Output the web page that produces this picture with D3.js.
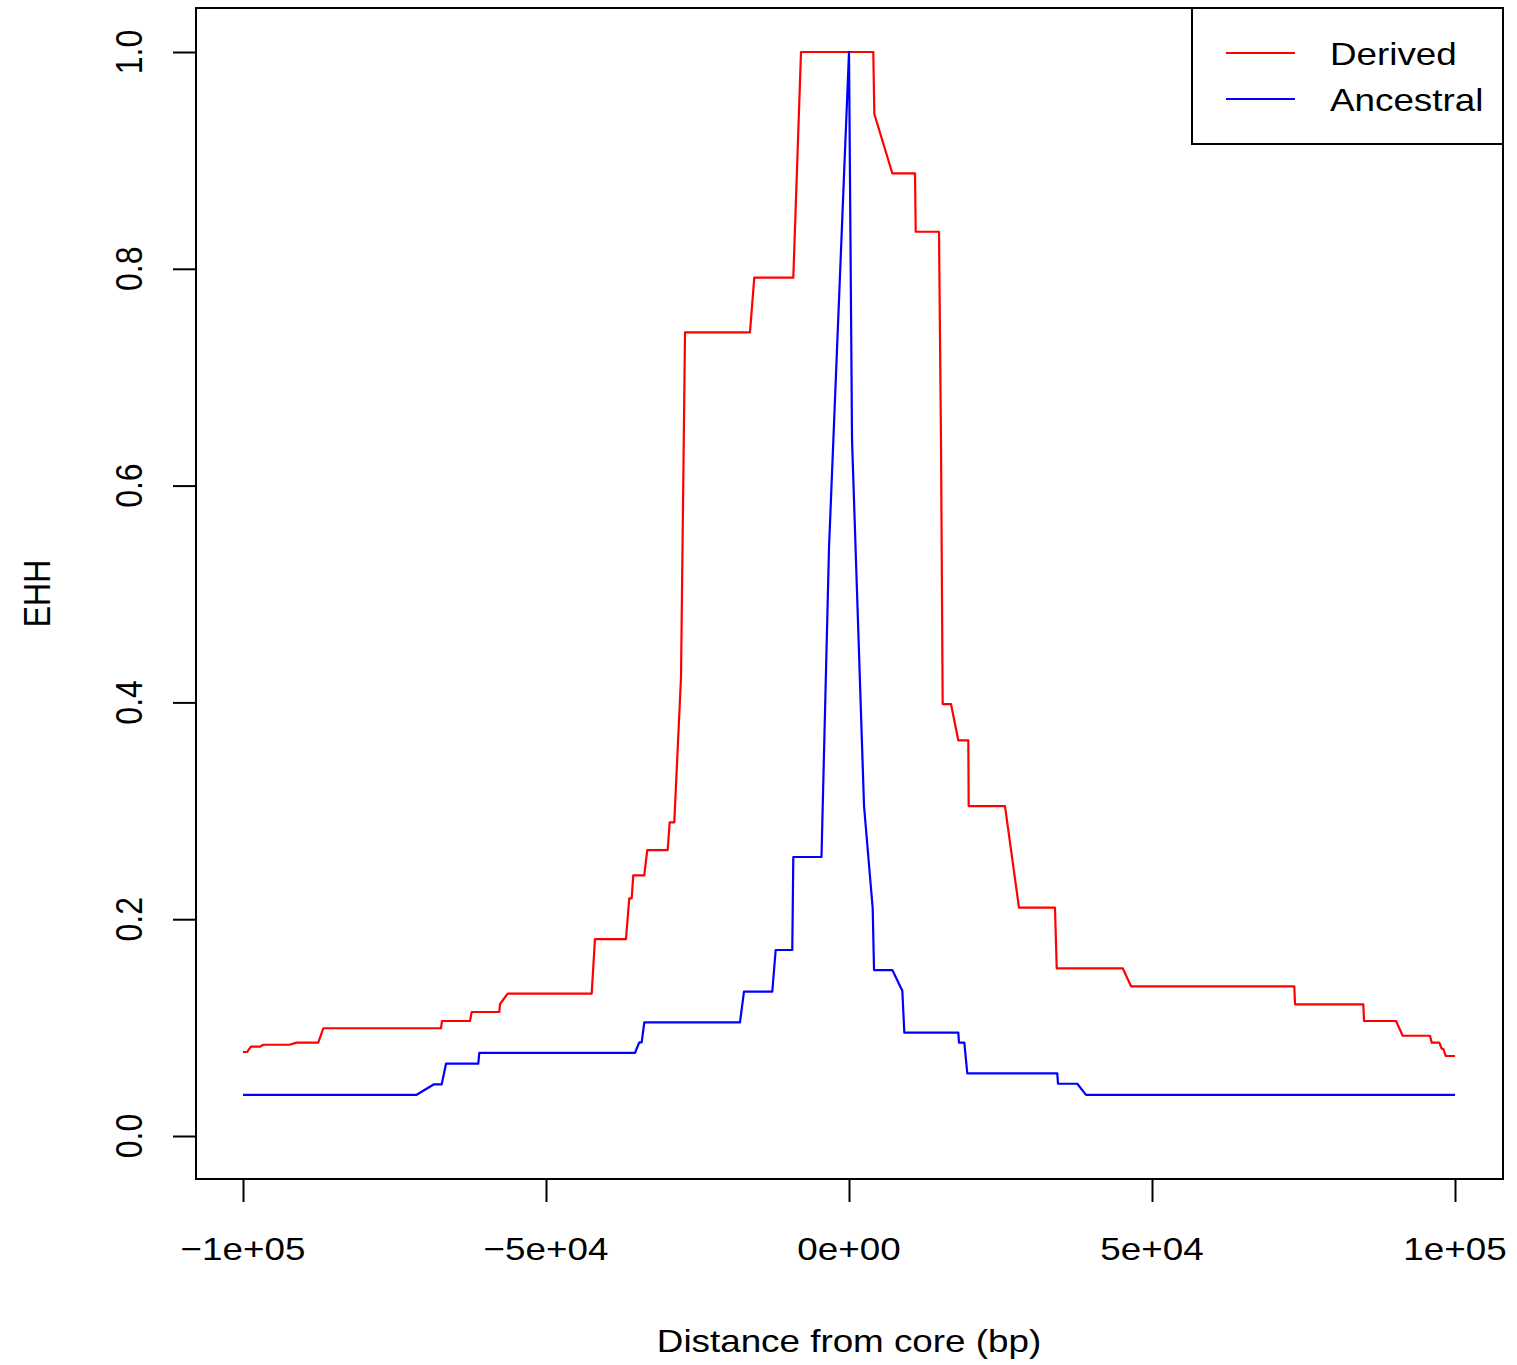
<!DOCTYPE html>
<html>
<head>
<meta charset="utf-8">
<script src="https://cdn.jsdelivr.net/npm/d3@7"></script>
<style>
  html, body { margin: 0; padding: 0; background: #fff; }
  svg { display: block; }
  text { font-family: "Liberation Sans", Arial, Helvetica, sans-serif; fill: #000; }
</style>
</head>
<body>
<svg id="chart" width="1517" height="1365"></svg>
<script>
// EHH decay around the core SNP, derived vs ancestral haplotypes
const derivedPos = [-100000, -99300, -98700, -97200, -96650, -92350, -91140, -87580, -86750, -67330,
  -67160, -62540, -62260, -57700, -57590, -56320, -42460, -41920, -36800, -36260,
  -35860, -35600, -33780, -33290, -29920, -29590, -28830, -27720, -27060, -16340,
  -15630, -9190, -7920, 4010, 4180, 7150, 10890, 11010, 14850, 15180,
  15460, 16830, 18040, 19690, 19750, 25740, 28050, 33990, 34280, 45170,
  46540, 73480, 73600, 84870, 84990, 90270, 91370, 95880, 96160, 97410,
  97810, 98070, 98470, 100000];
const derivedEHH = [0.0775, 0.0775, 0.0824, 0.0824, 0.0842, 0.0842, 0.0861, 0.0861, 0.0994, 0.0994,
  0.1061, 0.1061, 0.1144, 0.1144, 0.1218, 0.1313, 0.1313, 0.1817, 0.1817, 0.2193,
  0.2193, 0.2405, 0.2405, 0.2638, 0.2638, 0.2894, 0.2894, 0.4234, 0.7414, 0.7414,
  0.7918, 0.7918, 1.0, 1.0, 0.9428, 0.8881, 0.8881, 0.8342, 0.8342, 0.6421,
  0.3985, 0.3985, 0.3650, 0.3650, 0.3044, 0.3044, 0.2106, 0.2106, 0.1547, 0.1547,
  0.1381, 0.1381, 0.1215, 0.1215, 0.1061, 0.1061, 0.0925, 0.0925, 0.0861, 0.0861,
  0.0805, 0.0805, 0.0738, 0.0738];

const ancestralPos = [-100000, -71340, -68480, -67210, -66500, -61170, -61010, -35320, -34610, -34210,
  -33780, -17990, -17330, -12660, -12100, -9360, -9190, -4540, -3300, 0,
  500, 2480, 3910, 4130, 7150, 8800, 9130, 18040, 18150, 19030,
  19520, 34370, 34490, 37670, 39110, 100000];
const ancestralEHH = [0.038, 0.038, 0.0477, 0.0477, 0.0667, 0.0667, 0.0766, 0.0766, 0.0864, 0.0864,
  0.1049, 0.1049, 0.1331, 0.1331, 0.1716, 0.1716, 0.2574, 0.2574, 0.5424, 1.0,
  0.6421, 0.3044, 0.2101, 0.1531, 0.1531, 0.1340, 0.0953, 0.0953, 0.0861, 0.0861,
  0.0578, 0.0578, 0.0482, 0.0482, 0.038, 0.038];

const xTicks = [-100000, -50000, 0, 50000, 100000];
const xTickLabels = ["\u22121e+05", "\u22125e+04", "0e+00", "5e+04", "1e+05"];
const yTicks = [0, 0.2, 0.4, 0.6, 0.8, 1.0];
const yTickLabels = ["0.0", "0.2", "0.4", "0.6", "0.8", "1.0"];

const seriesNames = ["Derived", "Ancestral"];
const seriesColors = ["#ff0000", "#0000ff"];

// layout
const box = { left: 196, right: 1503, top: 8, bottom: 1179 };
const stretch = 1.15;      // horizontal glyph stretch
const fontSize = 32;

const svg = d3.select("#chart");

const x = d3.scaleLinear().domain([-100000, 100000]).range([243, 1455]);
const y = d3.scaleLinear().domain([0, 1]).range([1136, 52]);

// helper to place stretched text
function label(g, tx, ty, str, anchor, rotate) {
  const t = g.append("g")
    .attr("transform", `translate(${tx},${ty}) scale(${stretch},1)` + (rotate ? " rotate(-90)" : ""));
  t.append("text")
    .attr("text-anchor", anchor)
    .attr("font-size", fontSize)
    .text(str);
  return t;
}

// series lines
const line = d3.line().x(d => x(d[0])).y(d => y(d[1]));
const derived = derivedPos.map((p, i) => [p, derivedEHH[i]]);
const ancestral = ancestralPos.map((p, i) => [p, ancestralEHH[i]]);

svg.append("path").datum(derived)
  .attr("d", line).attr("fill", "none")
  .attr("stroke", seriesColors[0]).attr("stroke-width", 2.2)
  .attr("stroke-linejoin", "round");
svg.append("path").datum(ancestral)
  .attr("d", line).attr("fill", "none")
  .attr("stroke", seriesColors[1]).attr("stroke-width", 2.2)
  .attr("stroke-linejoin", "round");

// plot frame
svg.append("rect")
  .attr("x", box.left).attr("y", box.top)
  .attr("width", box.right - box.left).attr("height", box.bottom - box.top)
  .attr("fill", "none").attr("stroke", "#000").attr("stroke-width", 2);

// x axis
const xAxis = d3.axisBottom(x).tickValues(xTicks).tickSize(23).tickFormat("");
const gx = svg.append("g").attr("transform", `translate(0,${box.bottom})`).call(xAxis);
gx.select(".domain").attr("d", `M${x(xTicks[0])},0H${x(xTicks[xTicks.length - 1])}`)
  .attr("stroke", "#000").attr("stroke-width", 2);
gx.selectAll(".tick line").attr("stroke", "#000").attr("stroke-width", 2);
xTicks.forEach((v, i) => label(svg, x(v), 1260, xTickLabels[i], "middle", false));

// y axis
const yAxis = d3.axisLeft(y).tickValues(yTicks).tickSize(23).tickFormat("");
const gy = svg.append("g").attr("transform", `translate(${box.left},0)`).call(yAxis);
gy.select(".domain").attr("d", `M0,${y(yTicks[0])}V${y(yTicks[yTicks.length - 1])}`)
  .attr("stroke", "#000").attr("stroke-width", 2);
gy.selectAll(".tick line").attr("stroke", "#000").attr("stroke-width", 2);
yTicks.forEach((v, i) => label(svg, 142, y(v), yTickLabels[i], "middle", true));

// axis titles
label(svg, 849, 1352, "Distance from core (bp)", "middle", false);
label(svg, 50, (box.top + box.bottom) / 2, "EHH", "middle", true);

// legend
const legend = svg.append("g");
legend.append("rect")
  .attr("x", 1192).attr("y", box.top)
  .attr("width", box.right - 1192).attr("height", 144 - box.top)
  .attr("fill", "#fff").attr("stroke", "#000").attr("stroke-width", 2);
const legendY = [53, 99];
seriesNames.forEach((name, i) => {
  legend.append("line")
    .attr("x1", 1226).attr("x2", 1295)
    .attr("y1", legendY[i]).attr("y2", legendY[i])
    .attr("stroke", seriesColors[i]).attr("stroke-width", 2);
  label(legend, 1330, legendY[i] + 12, name, "start", false);
});
</script>
</body>
</html>
